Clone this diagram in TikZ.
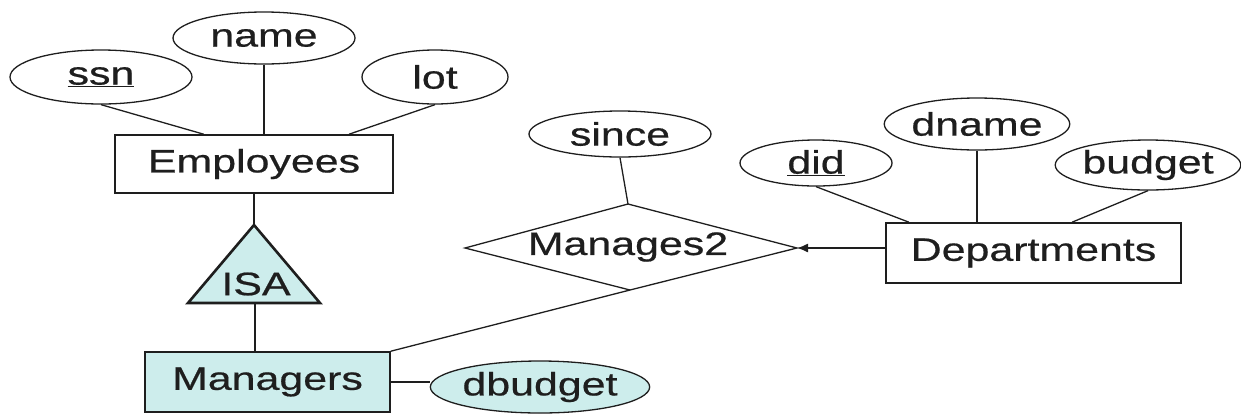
\documentclass[tikz,border=0pt]{standalone}
\usepackage{fontspec}
\setmainfont{Liberation Sans}[FakeStretch=1.32,FakeBold=0.6]
\usetikzlibrary{shapes.geometric,arrows.meta,calc}
\definecolor{isafill}{HTML}{CDEDEC}
\definecolor{ink}{HTML}{1E1E1E}
\begin{document}
\begin{tikzpicture}[x=1pt,y=-1pt,
  every node/.style={font=\fontsize{32.5}{32.5}\selectfont, text=ink, inner sep=0pt},
  attr/.style={ellipse, draw=ink, line width=1.3pt},
  entity/.style={rectangle, draw=ink, line width=1.6pt},
  link/.style={draw=ink, line width=1.3pt},
  hilite/.style={fill=isafill}]
\useasboundingbox (0,0) rectangle (1241,416);

% Employees with its attributes
\node[entity, minimum width=278, minimum height=58] (emp) at (254,164) {Employees};
\node[attr, minimum width=182, minimum height=54] (ssn) at (101,77) {\underline{ssn}};
\node[attr, minimum width=182, minimum height=52] (name) at (264,38) {name};
\node[attr, minimum width=146, minimum height=54] (lot) at (435,77) {lot};

% ISA triangle
\coordinate (isatop) at (254,225);
\coordinate (isabl) at (188,303);
\coordinate (isabr) at (320,303);
\coordinate (isabase) at (255,303);
\filldraw[fill=isafill, draw=ink, line width=2.6pt, line join=miter] (isatop) -- (isabl) -- (isabr) -- cycle;
\node (isa) at (256,284) {ISA};

% Managers and dbudget
\node[entity, hilite, minimum width=245, minimum height=60] (mgr) at (267.5,382) {Managers};
\node[attr, hilite, minimum width=216, minimum height=52] (dbud) at (540,387) {dbudget};

% Manages2 relationship
\coordinate (m2n) at (628,204);
\coordinate (m2s) at (630,290);
\coordinate (m2w) at (465,248);
\coordinate (m2e) at (797,248);
\draw[link] (m2n) -- (m2e) -- (m2s) -- (m2w) -- cycle;
\node (m2) at (628,247) {Manages2};
\node[attr, minimum width=182, minimum height=46] (since) at (620,134) {since};

% Departments with its attributes
\node[entity, minimum width=295, minimum height=60] (dept) at (1033.5,253) {Departments};
\node[attr, minimum width=152, minimum height=46] (did) at (816,163) {\underline{did}};
\node[attr, minimum width=182, minimum height=52] (dname) at (977,124) {dname};
\node[attr, minimum width=180, minimum height=50] (budget) at (1148,165) {budget};

% connectors
\draw[link] (ssn.south) -- ($(emp.north west)!0.32!(emp.north east)$);
\draw[link] (name.south) -- (name.south |- emp.north);
\draw[link] (lot.south) -- ($(emp.north west)!0.84!(emp.north east)$);
\draw[link] (emp.south) -- (isatop);
\draw[link] (isabase) -- (isabase |- mgr.north);
\draw[link] (mgr.north east) -- (m2s);
\draw[link] (mgr.east) -- (mgr.east -| dbud.west);
\draw[link] (since.south) -- (m2n);
\draw[link, -{Latex[length=11pt,width=9pt]}] (dept.west |- m2e) -- (m2e);
\draw[link] (did.south) -- ($(dept.north west)!0.08!(dept.north east)$);
\draw[link] (dname.south) -- (dname.south |- dept.north);
\draw[link] (budget.south) -- ($(dept.north west)!0.63!(dept.north east)$);
\end{tikzpicture}
\end{document}
